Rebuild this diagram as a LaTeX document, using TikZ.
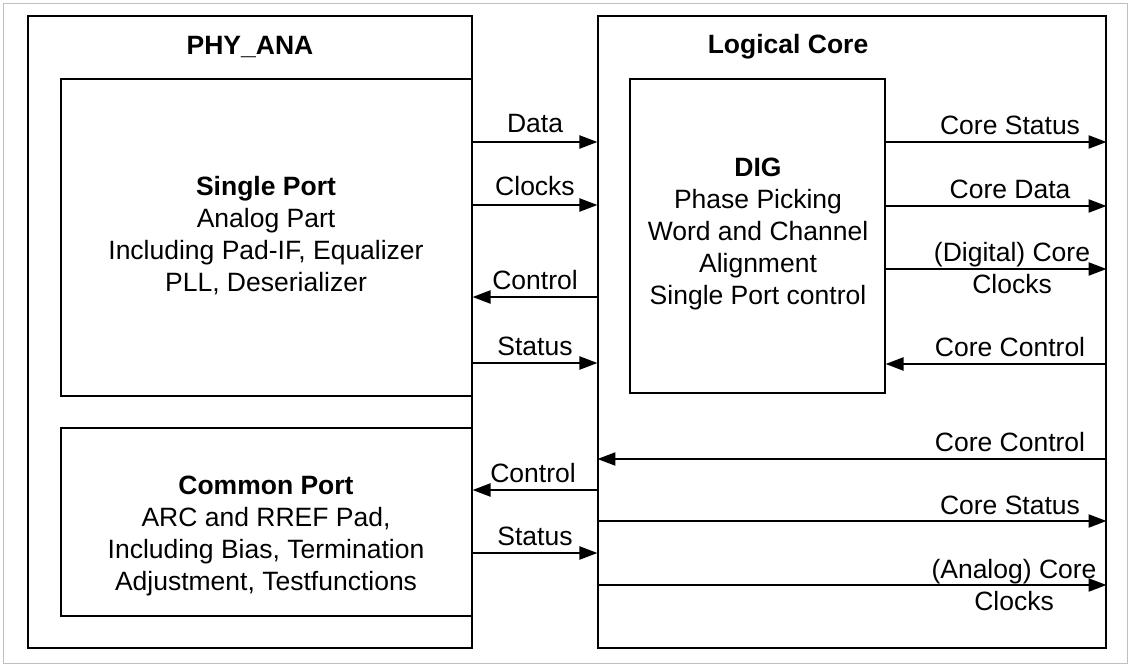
\documentclass[tikz,border=0pt]{standalone}
\usepackage{fontspec}
\setmainfont{Liberation Sans}
\usetikzlibrary{arrows.meta}
\begin{document}
\begin{tikzpicture}[x=1pt,y=-1pt,
  box/.style={draw,line width=1.1pt,inner sep=0pt},
  arr/.style={line width=2.2pt,-{Triangle[length=18pt,width=13pt]}},
  lab/.style={font=\fontsize{26.5}{32}\selectfont,align=center,inner sep=0pt},
  txt/.style={font=\fontsize{26.5}{32}\selectfont,align=center,inner sep=0pt}]
\useasboundingbox (0,0) rectangle (1130,669);
\draw[gray!50,line width=0.8pt] (3,3) rectangle (1127,663);
\node[box,minimum width=444pt,minimum height=632pt] (phy) at (250,332) {};
\node[box,minimum width=411pt,minimum height=317pt] (sp) at (266.5,237.5) {};
\node[box,minimum width=411pt,minimum height=188pt] (cp) at (266.5,522) {};
\node[box,minimum width=508pt,minimum height=632pt] (lc) at (852,332) {};
\node[box,minimum width=255pt,minimum height=314pt] (dig) at (757.5,236) {};
\node[txt,font=\fontsize{26.5}{32}\selectfont\bfseries] (t1) at (250,47) {PHY\_ANA};
\node[txt,font=\fontsize{26.5}{32}\selectfont\bfseries] (t2) at (788,47) {Logical Core};
\node[txt,anchor=north] (spt) at (266,176) {\textbf{Single Port}\\Analog Part\\Including Pad-IF, Equalizer\\PLL, Deserializer};
\node[txt,anchor=north] (cpt) at (266,476) {\textbf{Common Port}\\ARC and RREF Pad,\\Including Bias, Termination\\Adjustment, Testfunctions};
\node[txt,anchor=north] (dgt) at (758,158) {\textbf{DIG}\\Phase Picking\\Word and Channel\\Alignment\\Single Port control};
% left arrows
\draw[arr] (sp.east|-0,142) -- (lc.west|-0,142) node[lab,midway,above=8pt] (l1) {Data};
\draw[arr] (sp.east|-0,205) -- (lc.west|-0,205) node[lab,midway,above=8pt] (l2) {Clocks};
\draw[arr] (lc.west|-0,297) -- (sp.east|-0,297) node[lab,midway,above=6pt] (l3) {Control};
\draw[arr] (sp.east|-0,363) -- (lc.west|-0,363) node[lab,midway,above=6pt] (l4) {Status};
\draw[arr] (lc.west|-0,490) -- (cp.east|-0,490) node[lab,midway,above=6pt,xshift=-2pt] (l5) {Control};
\draw[arr] (cp.east|-0,553) -- (lc.west|-0,553) node[lab,midway,above=6pt] (l6) {Status};
% right arrows
\draw[arr] (dig.east|-0,142) -- (lc.east|-0,142) node[lab,midway,above=6pt,xshift=14pt] (r1) {Core Status};
\draw[arr] (dig.east|-0,206) -- (lc.east|-0,206) node[lab,midway,above=6pt,xshift=14pt] (r2) {Core Data};
\draw[arr] (dig.east|-0,269) -- (lc.east|-0,269);
\node[lab] (r3) at (1012,268) {(Digital) Core\\Clocks};
\draw[arr] (lc.east|-0,364) -- (dig.east|-0,364) node[lab,midway,above=6pt,xshift=14pt] (r4) {Core Control};
\draw[arr] (lc.east|-0,459) -- (lc.west|-0,459);
\node[lab] (r5) at (1010,442) {Core Control};
\draw[arr] (lc.west|-0,521) -- (lc.east|-0,521);
\node[lab] (r6) at (1010,505) {Core Status};
\draw[arr] (lc.west|-0,585) -- (lc.east|-0,585);
\node[lab] (r7) at (1014,585) {(Analog) Core\\Clocks};
\end{tikzpicture}
\end{document}
